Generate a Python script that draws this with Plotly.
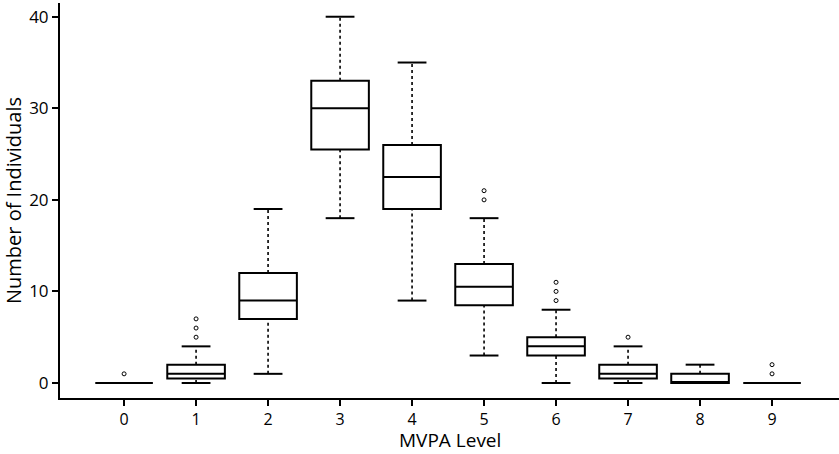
import plotly.graph_objects as go

levels = [0, 1, 2, 3, 4, 5, 6, 7, 8, 9]
q1 = [0, 0.5, 7, 25.5, 19, 8.5, 3, 0.5, 0, 0]
median = [0, 1, 9, 30, 22.5, 10.5, 4, 1, 0, 0]
q3 = [0, 2, 12, 33, 26, 13, 5, 2, 1, 0]
lower = [0, 0, 1, 18, 9, 3, 0, 0, 0, 0]
upper = [0, 4, 19, 40, 35, 18, 8, 4, 2, 0]
outlier_x = [0, 1, 1, 1, 5, 5, 6, 6, 6, 7, 9, 9]
outlier_y = [1, 5, 6, 7, 20, 21, 9, 10, 11, 5, 1, 2]

BOX_W = 0.8
CAP_W = 0.4

fig = go.Figure()

# whiskers (dotted)
wx, wy = [], []
for x, a, b, lo, hi in zip(levels, q1, q3, lower, upper):
    if lo < a:
        wx += [x, x, None]; wy += [lo, a, None]
    if hi > b:
        wx += [x, x, None]; wy += [b, hi, None]
fig.add_trace(go.Scatter(x=wx, y=wy, mode="lines",
                         line=dict(color="black", width=1.6, dash="dot"),
                         hoverinfo="skip", showlegend=False))

# caps
cx, cy = [], []
for x, a, b, lo, hi in zip(levels, q1, q3, lower, upper):
    if lo < a:
        cx += [x - CAP_W / 2, x + CAP_W / 2, None]; cy += [lo, lo, None]
    if hi > b:
        cx += [x - CAP_W / 2, x + CAP_W / 2, None]; cy += [hi, hi, None]
fig.add_trace(go.Scatter(x=cx, y=cy, mode="lines",
                         line=dict(color="black", width=2),
                         hoverinfo="skip", showlegend=False))

# boxes
fig.add_trace(go.Box(x=levels, q1=q1, median=median, q3=q3,
                     lowerfence=q1, upperfence=q3,
                     width=BOX_W, whiskerwidth=0,
                     fillcolor="white", line=dict(color="black", width=2),
                     boxpoints=False, showlegend=False))

# outliers
fig.add_trace(go.Scatter(x=outlier_x, y=outlier_y, mode="markers",
                         marker=dict(symbol="circle-open", size=4,
                                     color="black", line=dict(width=1)),
                         showlegend=False))

fig.update_layout(
    width=839, height=454,
    margin=dict(l=60, r=0, t=3, b=56, autoexpand=False),
    paper_bgcolor="white", plot_bgcolor="white",
    font=dict(family="Open Sans", color="black", size=16),
    showlegend=False,
)
fig.add_annotation(text="MVPA Level", xref="paper", yref="paper",
                   x=0.5, y=0, xanchor="center", yanchor="middle",
                   yshift=-42, showarrow=False, font=dict(size=19))
fig.update_xaxes(range=[-0.89, 9.93], tickvals=levels,
                 ticktext=[str(v) for v in levels],
                 showgrid=False, zeroline=False, automargin=False,
                 showline=True, linecolor="black", linewidth=2,
                 ticks="outside", ticklen=6, tickwidth=2, tickcolor="black")
fig.update_yaxes(range=[-1.64, 41.5], tickvals=[0, 10, 20, 30, 40],
                 showgrid=False, zeroline=False, automargin=False,
                 showline=True, linecolor="black", linewidth=2,
                 ticks="outside", ticklen=6, tickwidth=2, tickcolor="black",
                 tickfont=dict(size=17),
                 title=dict(text="Number of Individuals", font=dict(size=20), standoff=3))

fig.write_html("out.html", config={"displayModeBar": False},
               post_script="document.body.style.margin='0px';document.body.style.padding='0px';")
